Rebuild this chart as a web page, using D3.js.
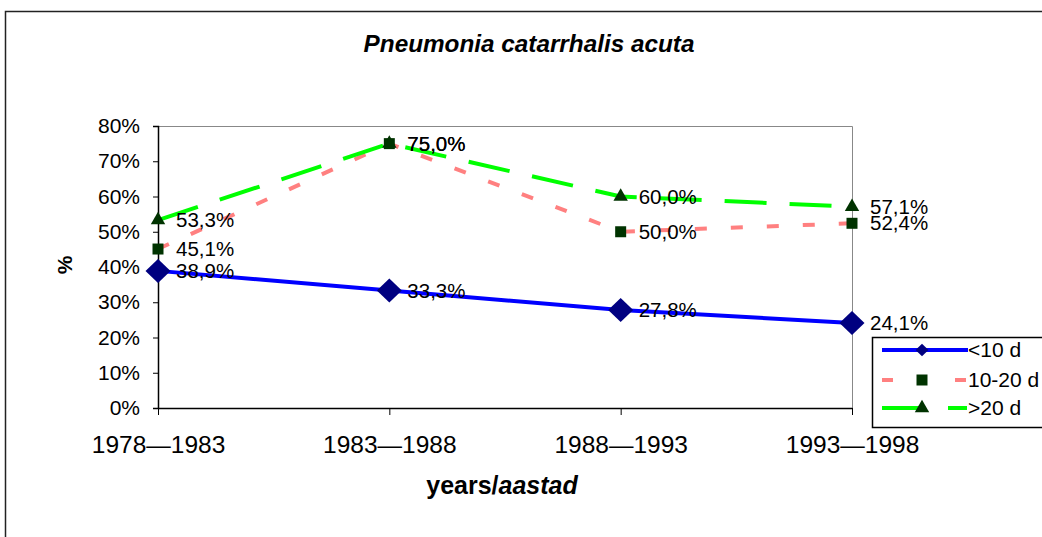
<!DOCTYPE html>
<html>
<head>
<meta charset="utf-8">
<script src="https://cdn.jsdelivr.net/npm/d3@7"></script>
<style>
  body{margin:0;background:#fff;}
  svg{display:block;font-family:Arial,"Liberation Sans",sans-serif;}
</style>
</head>
<body>
<script>
// data
var periods=["1978\u20141983","1983\u20141988","1988\u20141993","1993\u20141998"];
var under10=[38.9,33.3,27.8,24.1];
var mid1020=[45.1,75.0,50.0,52.4];
var over20=[53.3,75.0,60.0,57.1];
var yTicks=[0,10,20,30,40,50,60,70,80];
var seriesNames=["<10 d","10-20 d",">20 d"];

var W=1042,H=537;
var svg=d3.select("body").append("svg").attr("width",W).attr("height",H);

// outer frame (cut off on right/bottom)
svg.append("path").attr("d","M5.5,537 V11.5 H1042").attr("fill","none").attr("stroke","#222").attr("stroke-width",1.5);

var x=d3.scalePoint().domain(periods).range([158,852]),
    y=d3.scaleLinear().domain([0,80]).range([408,126]);

// plot area border (gray top/right)
svg.append("path").attr("d","M158,126.5 H852.5 V408").attr("fill","none").attr("stroke","#888").attr("stroke-width",1);

// y axis
var yAx=svg.append("g").attr("transform","translate(158,0)")
  .call(d3.axisLeft(y).tickValues(yTicks).tickSize(5).tickFormat(function(d){return d+"%";}));
yAx.select(".domain").attr("stroke","#000").attr("stroke-width",1.5);
yAx.selectAll("line").attr("stroke","#000");
yAx.selectAll("text").attr("font-size",21).attr("fill","#000").attr("x",-18);

// x axis
var xAx=svg.append("g").attr("transform","translate(0,408)")
  .call(d3.axisBottom(x).tickSize(7).tickSizeOuter(0));
xAx.select(".domain").attr("stroke","#000").attr("stroke-width",1.5);
xAx.selectAll("line").attr("stroke","#000");
xAx.selectAll("text").attr("font-size",24.5).attr("fill","#000").attr("y",45).attr("dy",0);

// titles
svg.append("text").attr("x",529).attr("y",52).attr("text-anchor","middle")
  .attr("font-size",24.3).attr("font-style","italic").attr("font-weight","bold").text("Pneumonia catarrhalis acuta");
svg.append("text").attr("transform","translate(72,265) rotate(-90)").attr("text-anchor","middle")
  .attr("font-size",21).attr("font-weight","bold").text("%");
var xt=svg.append("text").attr("x",502).attr("y",494).attr("text-anchor","middle")
  .attr("font-size",25).attr("font-weight","bold");
xt.append("tspan").text("years/");
xt.append("tspan").attr("font-style","italic").text("aastad");

var line=d3.line().x(function(d,i){return x(periods[i]);}).y(function(d){return y(d);});

// flat diamond, size = full width
var diamond={draw:function(p,s){var w=s/2,h=s/2*0.96;p.moveTo(0,-h);p.lineTo(w,0);p.lineTo(0,h);p.lineTo(-w,0);p.closePath();}};

var series=[
  {name:seriesNames[0],vals:under10,color:"#0000ff",dash:null,sym:diamond,size:25,lsize:13,mk:"#000080"},
  {name:seriesNames[1],vals:mid1020,color:"#ff8080",dash:"12,24",sym:d3.symbolSquare,size:121,lsize:121,mk:"#003300"},
  {name:seriesNames[2],vals:over20,color:"#00ff00",dash:"42,23",sym:d3.symbolTriangle,size:90,lsize:90,mk:"#003300"}
];

// lines
series.forEach(function(s){
  svg.append("path").datum(s.vals).attr("d",line).attr("fill","none")
    .attr("stroke",s.color).attr("stroke-width",4).attr("stroke-dasharray",s.dash);
});
// markers (triangles first so squares stay on top at 75%)
[series[0],series[2],series[1]].forEach(function(s){
  svg.append("g").selectAll("path").data(s.vals).enter().append("path")
    .attr("transform",function(d,i){return "translate("+x(periods[i])+","+y(d)+")";})
    .attr("d",d3.symbol().type(s.sym).size(s.size)).attr("fill",s.mk);
});
// data labels
series.forEach(function(s){
  svg.append("g").selectAll("text").data(s.vals).enter().append("text")
    .attr("x",function(d,i){return x(periods[i])+18;}).attr("y",function(d){return y(d);})
    .attr("dy","0.35em").attr("font-size",20.5).attr("fill","#000")
    .text(function(d){return d.toFixed(1).replace(".",",")+"%";});
});

// legend
var lg=svg.append("g");
lg.append("rect").attr("x",872.5).attr("y",337.5).attr("width",200).attr("height",90)
  .attr("fill","#fff").attr("stroke","#000").attr("stroke-width",1.5);
var ly=[350,380,408];
series.forEach(function(s,i){
  var g=lg.append("g");
  if(i===0){
    g.append("line").attr("x1",882).attr("x2",968).attr("y1",ly[i]).attr("y2",ly[i]).attr("stroke",s.color).attr("stroke-width",4);
  } else if(i===1){
    g.append("line").attr("x1",882).attr("x2",893).attr("y1",ly[i]).attr("y2",ly[i]).attr("stroke",s.color).attr("stroke-width",4);
    g.append("line").attr("x1",955).attr("x2",966).attr("y1",ly[i]).attr("y2",ly[i]).attr("stroke",s.color).attr("stroke-width",4);
  } else {
    g.append("line").attr("x1",882).attr("x2",924).attr("y1",ly[i]).attr("y2",ly[i]).attr("stroke",s.color).attr("stroke-width",4);
    g.append("line").attr("x1",948).attr("x2",967).attr("y1",ly[i]).attr("y2",ly[i]).attr("stroke",s.color).attr("stroke-width",4);
  }
  g.append("path").attr("transform","translate(922,"+ly[i]+")")
    .attr("d",d3.symbol().type(s.sym).size(s.lsize)).attr("fill",s.mk);
  g.append("text").attr("x",968).attr("y",ly[i]).attr("dy","0.35em").attr("font-size",21).text(s.name);
});
</script>
</body>
</html>
